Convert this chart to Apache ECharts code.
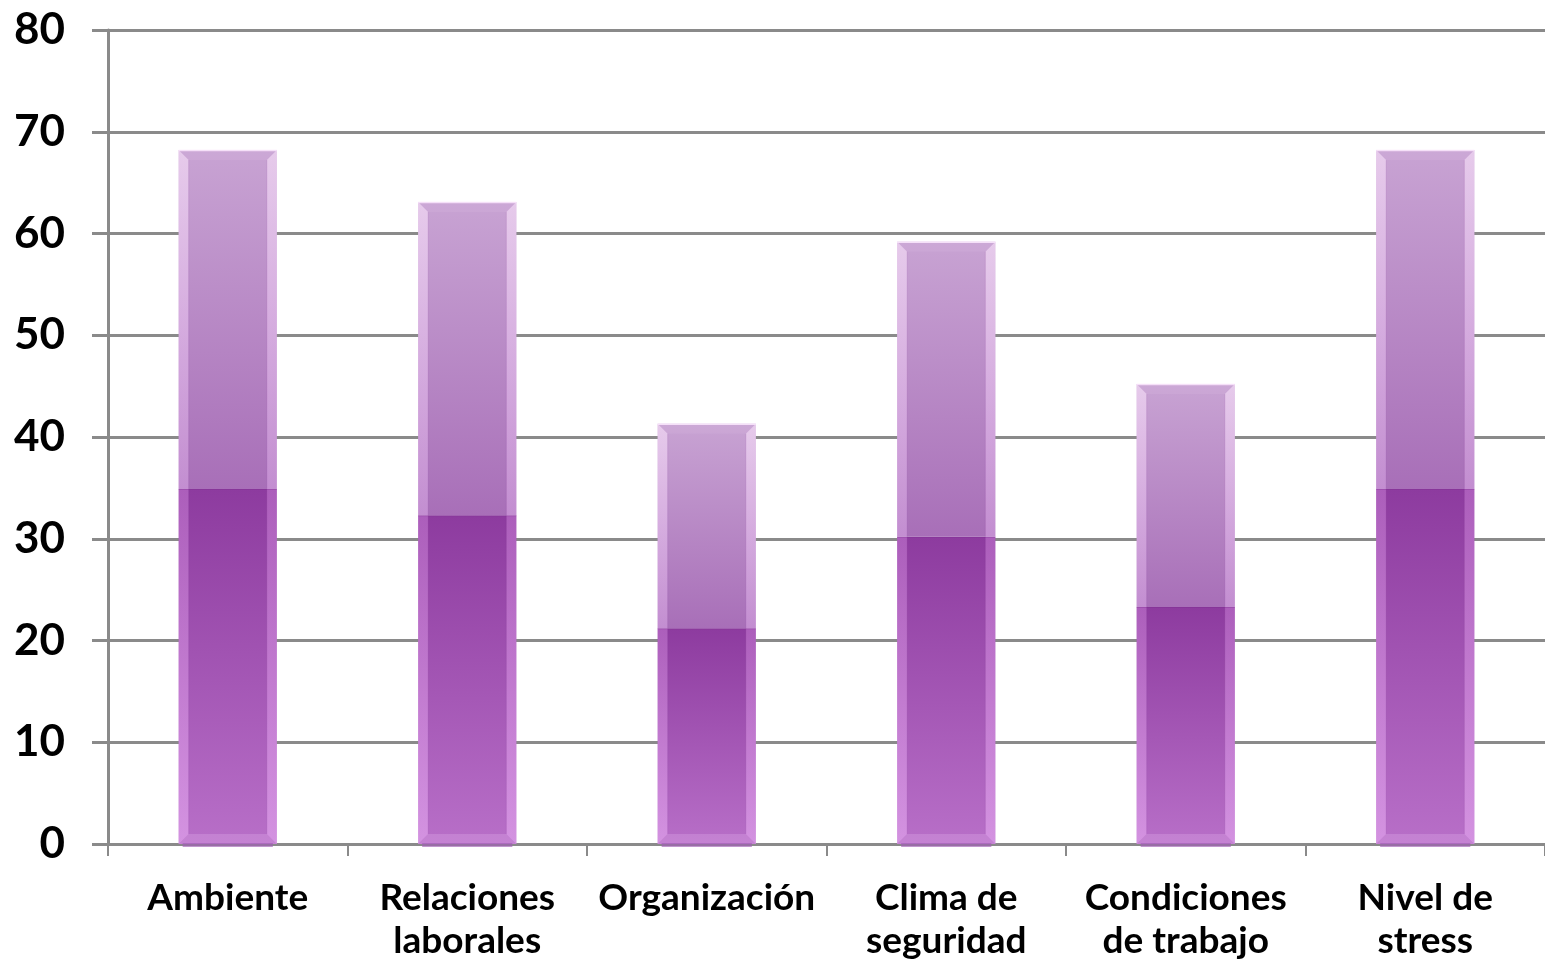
<!DOCTYPE html>
<html>
<head>
<meta charset="utf-8">
<script src="https://cdn.jsdelivr.net/npm/echarts@6/dist/echarts.min.js"></script>
<style>
  html, body { margin: 0; padding: 0; background: #ffffff; }
  #chart { width: 1545px; height: 963px; }
</style>
</head>
<body>
<div id="chart"></div>
<script>
// Categories along the horizontal axis
const categories = [
  'Ambiente',
  'Relaciones\nlaborales',
  'Organización',
  'Clima de\nseguridad',
  'Condiciones\nde trabajo',
  'Nivel de\nstress'
];
// Lower (darker) segment of each column
const lowerValues = [34.9, 32.3, 21.2, 30.2, 23.3, 34.9];
// Upper (lighter) segment stacked on top of the lower one
const upperValues = [33.3, 30.8, 20.1, 29.0, 21.9, 33.3];
// Value axis ticks
const yMin = 0, yMax = 80, yStep = 10;

const GRID_GRAY = '#8a8a8a';
const FONT = 'Lato, "Liberation Sans", sans-serif';
const BAR_FRACTION = 0.41;

// Stacked ranges [category, start, end] for each segment
const lowerData = lowerValues.map((v, i) => [i, 0, v]);
const upperData = upperValues.map((v, i) => [i, lowerValues[i], lowerValues[i] + v]);

function vGrad(top, bottom) {
  return new echarts.graphic.LinearGradient(0, 0, 0, 1, [
    { offset: 0, color: top },
    { offset: 1, color: bottom }
  ]);
}

// Draws one bevelled column segment; `upper` selects the top piece
function makeRenderer(upper) {
  return function (params, api) {
    const cat = api.value(0);
    const lo = api.value(1);
    const hi = api.value(2);
    const pLo = api.coord([cat, lo]);
    const pHi = api.coord([cat, hi]);
    const w = api.size([1, 0])[0] * BAR_FRACTION;
    const x = pLo[0] - w / 2;
    const yTop = pHi[1];
    const yBot = pLo[1];
    const h = yBot - yTop;
    const b = 10;
    const children = [];

    // body
    children.push({
      type: 'rect',
      shape: { x: x, y: yTop, width: w, height: h },
      style: {
        fill: upper ? vGrad('#c8a3d3', '#a86fb8') : vGrad('#8d3b9f', '#b86fc8')
      }
    });

    // side bevels
    const tb = upper ? b : 0;   // bevel at top corners
    const bb = upper ? 0 : b;   // bevel at bottom corners
    const sideFill = upper ? vGrad('rgba(255,235,255,0.55)', 'rgba(245,200,255,0.35)')
                           : vGrad('rgba(230,160,240,0.35)', 'rgba(245,190,255,0.45)');
    children.push({
      type: 'polygon',
      shape: { points: [[x, yTop], [x + b, yTop + tb], [x + b, yBot - bb], [x, yBot]] },
      style: { fill: sideFill }
    });
    children.push({
      type: 'polygon',
      shape: { points: [[x + w, yTop], [x + w - b, yTop + tb], [x + w - b, yBot - bb], [x + w, yBot]] },
      style: { fill: sideFill }
    });
    // thin seams between bevel and face
    children.push({
      type: 'line',
      shape: { x1: x + b, y1: yTop + tb, x2: x + b, y2: yBot - bb },
      style: { stroke: 'rgba(120,50,140,0.15)', lineWidth: 1 }
    });
    children.push({
      type: 'line',
      shape: { x1: x + w - b, y1: yTop + tb, x2: x + w - b, y2: yBot - bb },
      style: { stroke: 'rgba(120,50,140,0.15)', lineWidth: 1 }
    });

    if (upper) {
      // top bevel and highlight
      children.push({
        type: 'polygon',
        shape: { points: [[x, yTop], [x + w, yTop], [x + w - b, yTop + b], [x + b, yTop + b]] },
        style: { fill: 'rgba(255,240,255,0.07)' }
      });
      children.push({
        type: 'line',
        shape: { x1: x, y1: yTop + 0.5, x2: x + w, y2: yTop + 0.5 },
        style: { stroke: 'rgba(250,230,252,0.9)', lineWidth: 1.5 }
      });
    } else {
      // bottom bevel
      children.push({
        type: 'polygon',
        shape: { points: [[x, yBot], [x + w, yBot], [x + w - b, yBot - b], [x + b, yBot - b]] },
        style: { fill: 'rgba(250,210,255,0.2)' }
      });
      // soft shadow under the column
      children.push({
        type: 'rect',
        shape: { x: x + 4, y: yBot - 1, width: w - 8, height: 4 },
        style: { fill: 'rgba(160,95,180,0.65)' }
      });
      // boundary line between the segments
      children.push({
        type: 'line',
        shape: { x1: x, y1: yTop + 0.5, x2: x + w, y2: yTop + 0.5 },
        style: { stroke: 'rgba(120,40,140,0.3)', lineWidth: 1 }
      });
    }
    return { type: 'group', children: children };
  };
}

const chart = echarts.init(document.getElementById('chart'), null, { renderer: 'canvas' });
chart.setOption({
  backgroundColor: '#ffffff',
  animation: false,
  grid: { left: 108, right: 0, top: 30, bottom: 118 },
  xAxis: {
    type: 'category',
    data: categories,
    boundaryGap: true,
    axisLine: { show: true, lineStyle: { color: GRID_GRAY, width: 3 } },
    axisTick: { show: true, length: 12, lineStyle: { color: GRID_GRAY, width: 2 } },
    axisLabel: {
      color: '#000000',
      fontFamily: FONT,
      fontWeight: 'bold',
      fontSize: 37,
      lineHeight: 43,
      margin: 33,
      interval: 0
    }
  },
  yAxis: {
    type: 'value',
    min: yMin,
    max: yMax,
    interval: yStep,
    axisLine: { show: true, lineStyle: { color: GRID_GRAY, width: 3 } },
    axisTick: { show: true, length: 16, lineStyle: { color: GRID_GRAY, width: 3 } },
    splitLine: { show: true, lineStyle: { color: GRID_GRAY, width: 3 } },
    axisLabel: {
      color: '#000000',
      fontFamily: FONT,
      fontWeight: 'bold',
      fontSize: 44,
      margin: 43
    }
  },
  series: [
    {
      type: 'custom',
      name: 'lower',
      renderItem: makeRenderer(false),
      encode: { x: 0, y: [1, 2] },
      data: lowerData,
      z: 3
    },
    {
      type: 'custom',
      name: 'upper',
      renderItem: makeRenderer(true),
      encode: { x: 0, y: [1, 2] },
      data: upperData,
      z: 3
    }
  ]
});
</script>
</body>
</html>
